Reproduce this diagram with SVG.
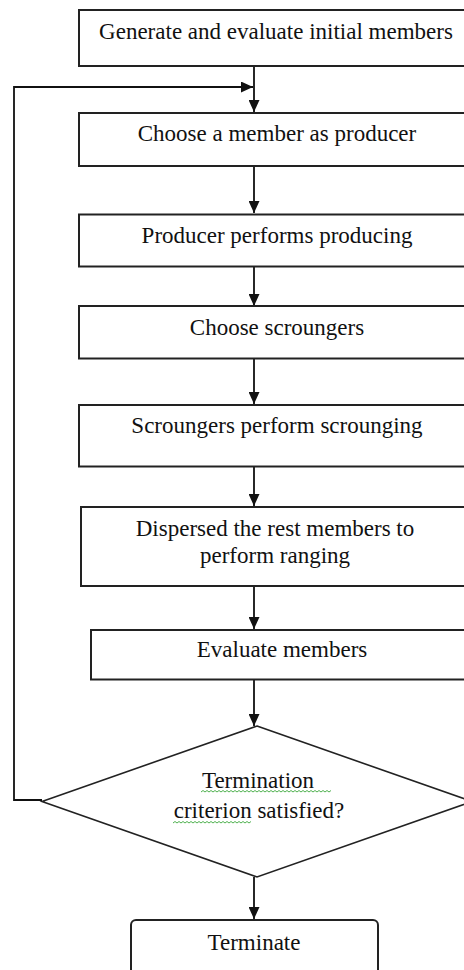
<svg xmlns="http://www.w3.org/2000/svg" width="464" height="970" viewBox="0 0 464 970">
<style>
  .box { fill: #ffffff; stroke: #222222; stroke-width: 2; }
  .dia { fill: #ffffff; stroke: #222222; stroke-width: 1.6; }
  .t { font-family: 'Liberation Serif', 'Times New Roman', 'DejaVu Serif', serif; font-size: 23px; fill: #111111; text-anchor: middle; }
  .ln { fill: none; stroke: #111111; stroke-width: 1.8; }
  .sq { fill: none; stroke: #3aa83a; stroke-width: 0.9; }
</style>
<defs>
  <marker id="ah" markerWidth="12" markerHeight="11" refX="12" refY="5.5" orient="auto" markerUnits="userSpaceOnUse">
    <path d="M0,0 L12,5.5 L0,11 Z" fill="#111111"/>
  </marker>
</defs>
<rect width="464" height="970" fill="#ffffff"/>

<g id="connectors">
  <line class="ln" x1="254" y1="66" x2="254" y2="112" marker-end="url(#ah)"/>
  <polyline class="ln" points="42,800 14,800 14,87 253,87" marker-end="url(#ah)"/>
  <line class="ln" x1="254" y1="166" x2="254" y2="213" marker-end="url(#ah)"/>
  <line class="ln" x1="254" y1="267" x2="254" y2="306" marker-end="url(#ah)"/>
  <line class="ln" x1="254" y1="358.5" x2="254" y2="404" marker-end="url(#ah)"/>
  <line class="ln" x1="254" y1="466" x2="254" y2="506" marker-end="url(#ah)"/>
  <line class="ln" x1="254" y1="586" x2="254" y2="629" marker-end="url(#ah)"/>
  <line class="ln" x1="254" y1="680" x2="254" y2="726" marker-end="url(#ah)"/>
  <line class="ln" x1="254" y1="877" x2="254" y2="919" marker-end="url(#ah)"/>
</g>

<g id="n1">
  <rect class="box" x="79" y="10" width="394" height="56"/>
  <text class="t" x="276" y="39">Generate and evaluate initial members</text>
</g>
<g id="n2">
  <rect class="box" x="79" y="113" width="394" height="53"/>
  <text class="t" x="277" y="141">Choose a member as producer</text>
</g>
<g id="n3">
  <rect class="box" x="79" y="214.5" width="394" height="52"/>
  <text class="t" x="277" y="243">Producer performs producing</text>
</g>
<g id="n4">
  <rect class="box" x="79" y="306" width="394" height="52.5"/>
  <text class="t" x="277" y="335">Choose scroungers</text>
</g>
<g id="n5">
  <rect class="box" x="79" y="405" width="394" height="61.5"/>
  <text class="t" x="277" y="433">Scroungers perform scrounging</text>
</g>
<g id="n6">
  <rect class="box" x="81" y="507" width="392" height="79"/>
  <text class="t" x="275" y="536">Dispersed the rest members to</text>
  <text class="t" x="275" y="563">perform ranging</text>
</g>
<g id="n7">
  <rect class="box" x="91" y="630" width="382" height="49.5"/>
  <text class="t" x="282" y="657">Evaluate members</text>
</g>
<g id="n8">
  <polygon class="dia" points="257,726 472,801.5 257,877 42,801.5"/>
  <text class="t" x="258" y="788">Termination</text>
  <text class="t" x="259" y="818">criterion satisfied?</text>
  <path class="sq" d="M201,792 l2,-1.5 l2,1.5 l2,-1.5 l2,1.5 l2,-1.5 l2,1.5 l2,-1.5 l2,1.5 l2,-1.5 l2,1.5 l2,-1.5 l2,1.5 l2,-1.5 l2,1.5 l2,-1.5 l2,1.5 l2,-1.5 l2,1.5 l2,-1.5 l2,1.5 l2,-1.5 l2,1.5 l2,-1.5 l2,1.5 l2,-1.5 l2,1.5 l2,-1.5 l2,1.5 l2,-1.5 l2,1.5 l2,-1.5 l2,1.5 l2,-1.5 l2,1.5 l2,-1.5 l2,1.5 l2,-1.5 l2,1.5 l2,-1.5 l2,1.5 l2,-1.5 l2,1.5 l2,-1.5 l2,1.5 l2,-1.5 l2,1.5 l2,-1.5 l2,1.5 l2,-1.5 l2,1.5 l2,-1.5 l2,1.5 l2,-1.5 l2,1.5 l2,-1.5 l2,1.5 l2,-1.5 l2,1.5 l2,-1.5 l2,1.5 l2,-1.5 l2,1.5 l2,-1.5 l2,1.5 l2,-1.5"/>
  <path class="sq" d="M173,823 l2,-1.5 l2,1.5 l2,-1.5 l2,1.5 l2,-1.5 l2,1.5 l2,-1.5 l2,1.5 l2,-1.5 l2,1.5 l2,-1.5 l2,1.5 l2,-1.5 l2,1.5 l2,-1.5 l2,1.5 l2,-1.5 l2,1.5 l2,-1.5 l2,1.5 l2,-1.5 l2,1.5 l2,-1.5 l2,1.5 l2,-1.5 l2,1.5 l2,-1.5 l2,1.5 l2,-1.5 l2,1.5 l2,-1.5 l2,1.5 l2,-1.5 l2,1.5 l2,-1.5 l2,1.5 l2,-1.5 l2,1.5 l2,-1.5"/>
</g>
<g id="n9">
  <rect class="box" x="131" y="920" width="247" height="64" rx="5" ry="5"/>
  <text class="t" x="254" y="950">Terminate</text>
</g>
</svg>
